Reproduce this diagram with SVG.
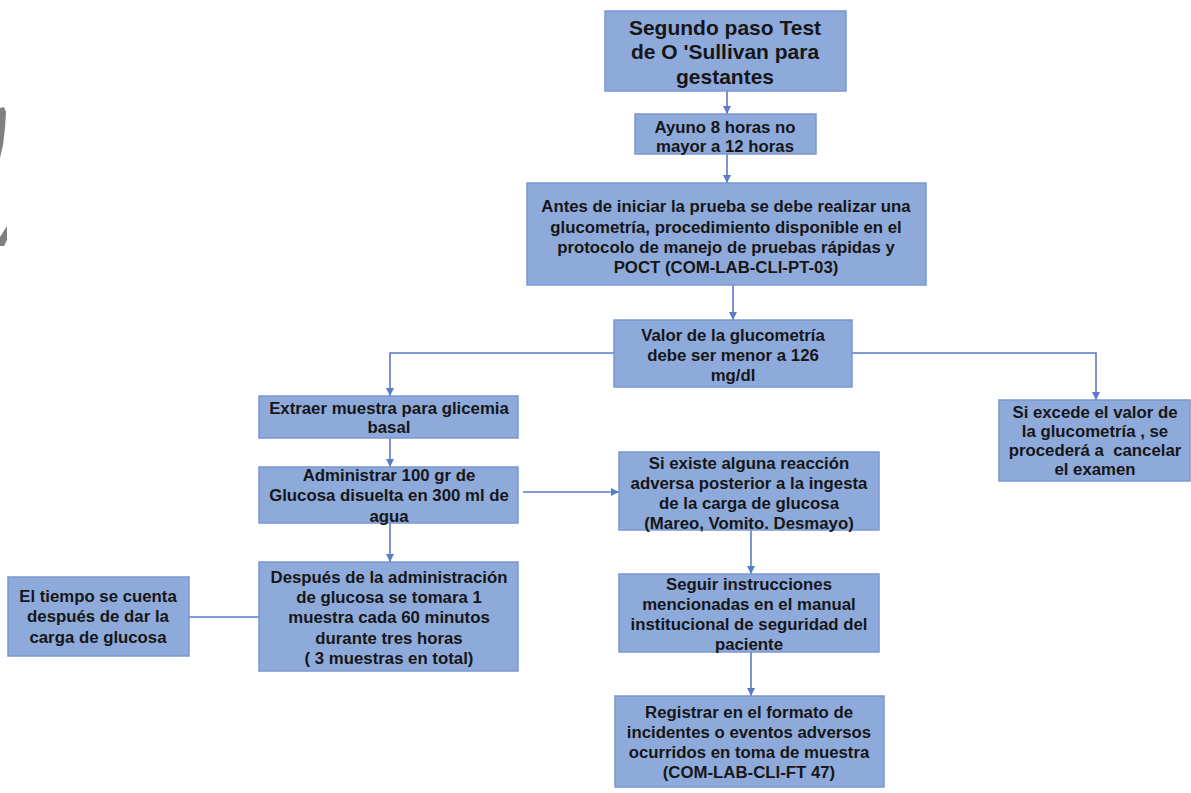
<svg xmlns="http://www.w3.org/2000/svg" width="1191" height="793" viewBox="0 0 1191 793">
<style>
.box{fill:#8eaadb;stroke:#7b97cf;stroke-width:1.5}
.t{font-family:"Liberation Sans",Arial,sans-serif;font-weight:bold;font-size:16.8px;fill:#161616;text-anchor:middle;white-space:pre}
.title{font-size:21px}
.c{fill:none;stroke:#5a7bc9;stroke-width:1.6}
</style>
<defs>
<marker id="ah" markerUnits="userSpaceOnUse" markerWidth="9" markerHeight="9" refX="8" refY="4.5" orient="auto">
<path d="M0,0.5 L8,4.5 L0,8.5 z" fill="#5a7bc9"/>
</marker>
</defs>
<rect width="1191" height="793" fill="#ffffff"/>
<g id="decor" fill="#808080">
<polygon points="0,108 4,107 6,112 5,128 3,145 0,158"/>
<polygon points="0,237 7,226 7,240 4,246 0,246"/>
</g>
<g id="connectors">
<line class="c" x1="727" y1="91" x2="727" y2="114" marker-end="url(#ah)"/>
<line class="c" x1="727" y1="154" x2="727" y2="183" marker-end="url(#ah)"/>
<line class="c" x1="733" y1="285" x2="733" y2="320" marker-end="url(#ah)"/>
<path class="c" d="M614,353 H390 V396" marker-end="url(#ah)"/>
<path class="c" d="M852,353 H1096 V400" marker-end="url(#ah)"/>
<line class="c" x1="390" y1="438" x2="390" y2="467" marker-end="url(#ah)"/>
<line class="c" x1="523" y1="492" x2="619" y2="492" marker-end="url(#ah)"/>
<line class="c" x1="390" y1="523" x2="390" y2="562" marker-end="url(#ah)"/>
<line class="c" x1="751" y1="530" x2="751" y2="574" marker-end="url(#ah)"/>
<line class="c" x1="751" y1="652" x2="751" y2="696" marker-end="url(#ah)"/>
<line class="c" x1="189" y1="617" x2="259" y2="617"/>
</g>
<g id="n1">
<rect class="box" x="605" y="11" width="241" height="80"/>
<text class="t title" x="725" y="34.5">Segundo paso Test</text>
<text class="t title" x="725" y="59">de O 'Sullivan para</text>
<text class="t title" x="725" y="83.5">gestantes</text>
</g>
<g id="n2">
<rect class="box" x="635" y="114" width="181" height="40"/>
<text class="t" x="725" y="133">Ayuno 8 horas no</text>
<text class="t" x="725" y="152">mayor a 12 horas</text>
</g>
<g id="n3">
<rect class="box" x="527" y="183" width="399" height="102"/>
<text class="t" x="726" y="212">Antes de iniciar la prueba se debe realizar una</text>
<text class="t" x="726" y="233">glucometría, procedimiento disponible en el</text>
<text class="t" x="726" y="253">protocolo de manejo de pruebas rápidas y</text>
<text class="t" x="726" y="273">POCT (COM-LAB-CLI-PT-03)</text>
</g>
<g id="n4">
<rect class="box" x="614" y="320" width="238" height="67"/>
<text class="t" x="733" y="341">Valor de la glucometría</text>
<text class="t" x="733" y="361">debe ser menor a 126</text>
<text class="t" x="733" y="381">mg/dl</text>
</g>
<g id="n5">
<rect class="box" x="999" y="400" width="191" height="81"/>
<text class="t" x="1095" y="418">Si excede el valor de</text>
<text class="t" x="1095" y="437">la glucometría , se</text>
<text class="t" x="1095" y="456" xml:space="preserve">procederá a  cancelar</text>
<text class="t" x="1095" y="475">el examen</text>
</g>
<g id="n6">
<rect class="box" x="259" y="396" width="259" height="42"/>
<text class="t" x="389" y="414">Extraer muestra para glicemia</text>
<text class="t" x="389" y="433">basal</text>
</g>
<g id="n7">
<rect class="box" x="259" y="467" width="259" height="56"/>
<text class="t" x="389" y="481">Administrar 100 gr de</text>
<text class="t" x="389" y="501">Glucosa disuelta en 300 ml de</text>
<text class="t" x="389" y="522">agua</text>
</g>
<g id="n8">
<rect class="box" x="619" y="452" width="260" height="78"/>
<text class="t" x="749" y="469">Si existe alguna reacción</text>
<text class="t" x="749" y="489">adversa posterior a la ingesta</text>
<text class="t" x="749" y="509">de la carga de glucosa</text>
<text class="t" x="749" y="529">(Mareo, Vomito. Desmayo)</text>
</g>
<g id="n9">
<rect class="box" x="619" y="574" width="260" height="78"/>
<text class="t" x="749" y="590">Seguir instrucciones</text>
<text class="t" x="749" y="610">mencionadas en el manual</text>
<text class="t" x="749" y="630">institucional de seguridad del</text>
<text class="t" x="749" y="650">paciente</text>
</g>
<g id="n10">
<rect class="box" x="615" y="696" width="269" height="91"/>
<text class="t" x="749" y="718">Registrar en el formato de</text>
<text class="t" x="749" y="738">incidentes o eventos adversos</text>
<text class="t" x="749" y="758">ocurridos en toma de muestra</text>
<text class="t" x="749" y="778">(COM-LAB-CLI-FT 47)</text>
</g>
<g id="n11">
<rect class="box" x="259" y="562" width="259" height="109"/>
<text class="t" x="389" y="583">Después de la administración</text>
<text class="t" x="389" y="603">de glucosa se tomara 1</text>
<text class="t" x="389" y="623">muestra cada 60 minutos</text>
<text class="t" x="389" y="644">durante tres horas</text>
<text class="t" x="389" y="664">( 3 muestras en total)</text>
</g>
<g id="n12">
<rect class="box" x="8" y="577" width="181" height="79"/>
<text class="t" x="98" y="602">El tiempo se cuenta</text>
<text class="t" x="98" y="622">después de dar la</text>
<text class="t" x="98" y="643">carga de glucosa</text>
</g>
</svg>
